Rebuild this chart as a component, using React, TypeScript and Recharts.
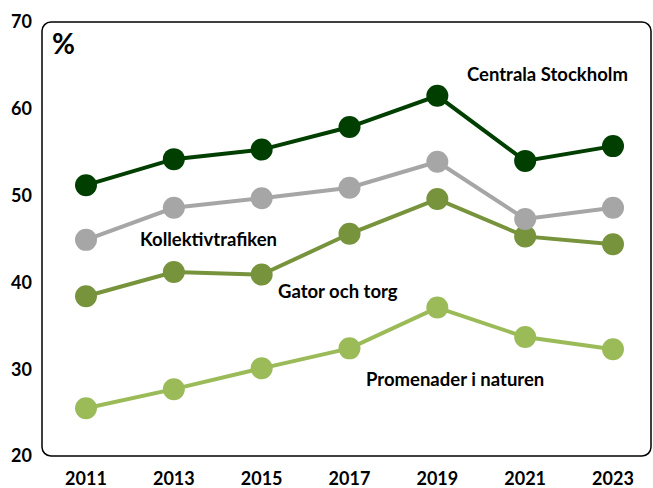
import React from 'react';
import { LineChart, Line, XAxis, YAxis, Customized, usePlotArea } from 'recharts';

const years = ['2011', '2013', '2015', '2017', '2019', '2021', '2023'];
const centrala = [51.2, 54.2, 55.3, 57.9, 61.5, 54.0, 55.7];
const kollektiv = [44.9, 48.6, 49.7, 50.9, 53.9, 47.3, 48.6];
const gator = [38.4, 41.2, 40.9, 45.6, 49.6, 45.3, 44.4];
const promenader = [25.5, 27.7, 30.1, 32.4, 37.1, 33.7, 32.3];
const yTicks = [20, 30, 40, 50, 60, 70];

const data = years.map((y, i) => ({
  year: y,
  centrala: centrala[i],
  kollektiv: kollektiv[i],
  gator: gator[i],
  promenader: promenader[i],
}));

const FONT = 'Lato, "Open Sans", sans-serif';

const Frame = () => {
  const pa = usePlotArea ? usePlotArea() : null;
  if (!pa) return null;
  return (
    <rect x={pa.x} y={pa.y} width={pa.width} height={pa.height} rx={9} ry={9}
      fill="none" stroke="#000" strokeWidth={1.5} />
  );
};

const Labels = () => (
  <g fontFamily={FONT} fontWeight="bold" fill="#000">
    <text x={52} y={54} fontSize={28}>%</text>
    <text x={467} y={81} fontSize={18.5}>Centrala Stockholm</text>
    <text x={140} y={246} fontSize={18.5}>Kollektivtrafiken</text>
    <text x={278} y={298} fontSize={18.5}>Gator och torg</text>
    <text x={366} y={386} fontSize={18.5}>Promenader i naturen</text>
  </g>
);

const series = [
  { key: 'promenader', color: '#9bbb59' },
  { key: 'gator', color: '#77933c' },
  { key: 'kollektiv', color: '#a6a6a6' },
  { key: 'centrala', color: '#003f00' },
];

export default function App() {
  return (
    <div style={{ position: 'absolute', left: 0, top: 0 }}>
      <LineChart width={653} height={488} data={data}
        margin={{ top: 22, right: 2, bottom: 0, left: 0 }}>
        <Customized component={Frame} />
        <XAxis dataKey="year" padding={{ left: 44, right: 38 }} axisLine={false} tickLine={false}
          tickSize={0} tickMargin={16} height={32} interval={0}
          tick={{ fill: '#000', fontSize: 18, fontWeight: 'bold', fontFamily: FONT }} />
        <YAxis domain={[20, 70]} ticks={yTicks} axisLine={false} tickLine={false}
          tickSize={0} tickMargin={10} width={42} interval={0}
          tick={{ fill: '#000', fontSize: 18, fontWeight: 'bold', fontFamily: FONT }} />
        {series.map((s) => (
          <Line key={s.key} dataKey={s.key} stroke={s.color} strokeWidth={4}
            dot={{ r: 11, fill: s.color, stroke: s.color, strokeWidth: 0 }}
            activeDot={false} isAnimationActive={false} />
        ))}
        <Customized component={Labels} />
      </LineChart>
    </div>
  );
}
